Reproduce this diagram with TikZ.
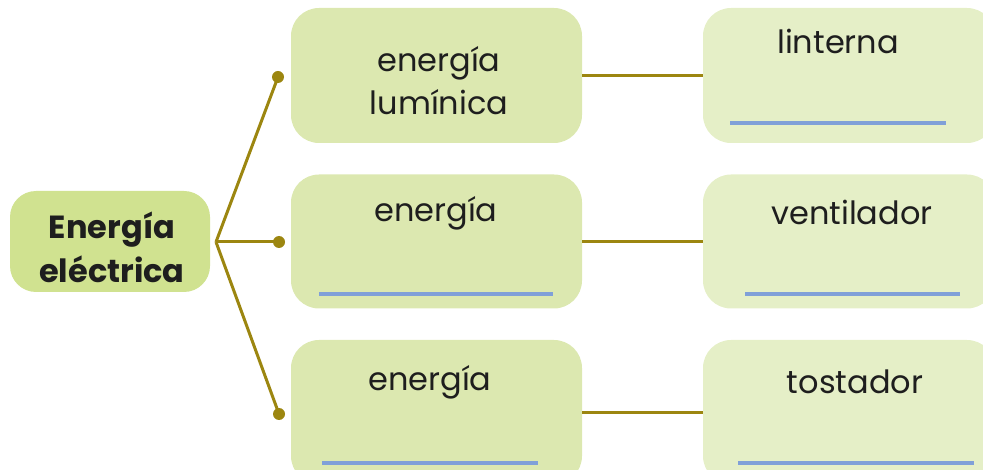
\documentclass[tikz,border=0pt]{standalone}
\usepackage{fontspec}
\setmainfont{Poppins}
\begin{document}
\begin{tikzpicture}[x=1pt,y=-1pt,
  rootbox/.style={draw=none,fill=rootgreen,rounded corners=26pt,inner sep=0pt},
  midbox/.style={draw=none,fill=midgreen,rounded corners=28pt,inner sep=0pt,minimum width=291pt},
  endbox/.style={draw=none,fill=endgreen,rounded corners=28pt,inner sep=0pt,minimum width=292pt},
  lbl/.style={inner sep=0pt,font=\fontsize{32}{43}\selectfont,align=center,text=textgray},
  link/.style={draw=olive,line width=3pt},
  knob/.style={circle,fill=olive,inner sep=0pt,minimum size=12pt},
  blank/.style={draw=blankblue,line width=3.2pt}]
\definecolor{rootgreen}{RGB}{208,226,144}
\definecolor{midgreen}{RGB}{220,232,176}
\definecolor{endgreen}{RGB}{229,239,199}
\definecolor{olive}{RGB}{156,134,16}
\definecolor{blankblue}{RGB}{128,160,216}
\definecolor{textgray}{RGB}{30,30,30}
\useasboundingbox (0,0) rectangle (983,470);
\clip (0,0) rectangle (983,470);

% boxes
\node[rootbox,minimum width=200pt,minimum height=101pt] (root) at (110,241.5) {};
\node[midbox,minimum height=135pt] (m1) at (436.5,75.5) {};
\node[midbox,minimum height=134pt] (m2) at (436.5,241.5) {};
\node[midbox,minimum height=144pt] (m3) at (436.5,412) {};
\node[endbox,minimum height=135pt] (e1) at (849,75.5) {};
\node[endbox,minimum height=134pt] (e2) at (849,241.5) {};
\node[endbox,minimum height=144pt] (e3) at (849,412) {};

% labels
\node[lbl,font=\fontsize{32}{44}\selectfont\bfseries] (rootlbl) at (112,247) {Energía\\eléctrica};
\node[lbl] (m1lbl) at (439,81) {energía\\lumínica};
\node[lbl] (m2lbl) at (436,213) {energía};
\node[lbl] (m3lbl) at (430,382) {energía};
\node[lbl] (e1lbl) at (838,41) {linterna};
\node[lbl] (e2lbl) at (852,212) {ventilador};
\node[lbl] (e3lbl) at (855,382) {tostador};

% answer blanks
\draw[blank] (730,123) -- (946,123);
\draw[blank] (319,294) -- (553,294);
\draw[blank] (745,294) -- (960,294);
\draw[blank] (322,463) -- (538,463);
\draw[blank] (738,463) -- (974,463);

% branches from the root
\coordinate (j) at (216,242);
\node[knob] (d1) at (278,77) {};
\node[knob] (d2) at (279,242) {};
\node[knob] (d3) at (279,414) {};
\draw[link] (j) -- (d1.center);
\draw[link] (j) -- (d2.center);
\draw[link] (j) -- (d3.center);

% links between the columns
\draw[link] (m1.east) -- (e1.west);
\draw[link] (m2.east) -- (e2.west);
\draw[link] (m3.east) -- (e3.west);
\end{tikzpicture}
\end{document}
